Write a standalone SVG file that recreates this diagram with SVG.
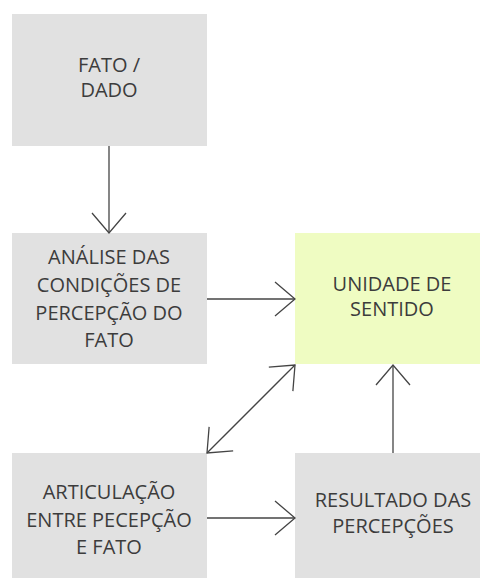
<svg xmlns="http://www.w3.org/2000/svg" width="480" height="578" viewBox="0 0 480 578">
<style>
.box{fill:#e1e1e1;}
.green{fill:#effcc2;}
.t{font-family:"Open Sans","Liberation Sans",sans-serif;font-weight:400;font-size:20px;fill:#3c3c3c;text-anchor:middle;}
.c{stroke:#444;stroke-width:1.3;fill:none;}
</style>
<defs>
<marker id="ah" viewBox="-24 -20 28 40" markerWidth="28" markerHeight="40" refX="0" refY="0" orient="auto-start-reverse" markerUnits="userSpaceOnUse">
<path d="M-20,-17 L0,0 L-20,17" fill="none" stroke="#444" stroke-width="1.3"/>
</marker>
</defs>
<rect width="480" height="578" fill="#fff"/>
<g id="fato">
<rect class="box" x="12" y="14" width="195" height="132"/>
<text class="t" x="109" y="72">FATO /</text>
<text class="t" x="109" y="97">DADO</text>
</g>
<g id="analise">
<rect class="box" x="12" y="233" width="195" height="131"/>
<text class="t" x="109" y="264">ANÁLISE DAS</text>
<text class="t" x="109" y="292">CONDIÇÕES DE</text>
<text class="t" x="109" y="320">PERCEPÇÃO DO</text>
<text class="t" x="109" y="347">FATO</text>
</g>
<g id="unidade">
<rect class="green" x="295" y="233" width="195" height="131"/>
<text class="t" x="392" y="291">UNIDADE DE</text>
<text class="t" x="392" y="316">SENTIDO</text>
</g>
<g id="articulacao">
<rect class="box" x="12" y="453" width="195" height="140"/>
<text class="t" x="109" y="499">ARTICULAÇÃO</text>
<text class="t" x="109" y="527">ENTRE PECEPÇÃO</text>
<text class="t" x="109" y="554">E FATO</text>
</g>
<g id="resultado">
<rect class="box" x="295" y="453" width="195" height="140"/>
<text class="t" x="393" y="507">RESULTADO DAS</text>
<text class="t" x="393" y="533">PERCEPÇÕES</text>
</g>
<g id="connectors">
<line class="c" x1="109" y1="146" x2="109" y2="233" marker-end="url(#ah)"/>
<line class="c" x1="207" y1="299" x2="295" y2="299" marker-end="url(#ah)"/>
<line class="c" x1="207" y1="453" x2="295" y2="365" marker-start="url(#ah)" marker-end="url(#ah)"/>
<line class="c" x1="393" y1="453" x2="393" y2="365" marker-end="url(#ah)"/>
<line class="c" x1="207" y1="518" x2="295" y2="518" marker-end="url(#ah)"/>
</g>
</svg>
